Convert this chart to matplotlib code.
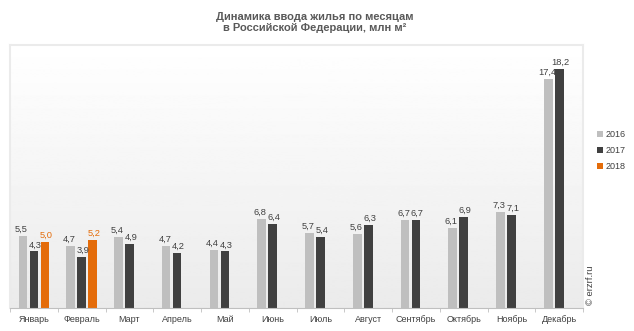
import numpy as np
import matplotlib.pyplot as plt

plt.rcParams['font.family'] = ['Liberation Sans', 'DejaVu Sans']

months = ['Январь', 'Февраль', 'Март', 'Апрель', 'Май', 'Июнь', 'Июль',
          'Август', 'Сентябрь', 'Октябрь', 'Ноябрь', 'Декабрь']
y2016 = [5.5, 4.7, 5.4, 4.7, 4.4, 6.8, 5.7, 5.6, 6.7, 6.1, 7.3, 17.4]
y2017 = [4.3, 3.9, 4.9, 4.2, 4.3, 6.4, 5.4, 6.3, 6.7, 6.9, 7.1, 18.2]
y2018 = [5.0, 5.2]

c16, c17, c18 = '#BFBFBF', '#404040', '#E46C0A'
lbl = '#404040'

fig = plt.figure(figsize=(6.34, 3.31), dpi=100)
ax = fig.add_axes([0.0158, 0.0695, 0.904, 0.7946])

# gradient background of the plot area
grad = np.linspace(1.0, 0.92, 256).reshape(-1, 1)
ax.imshow(grad, cmap='gray', vmin=0, vmax=1, aspect='auto',
          extent=[-0.5, 11.5, 0, 20], origin='upper', zorder=0)

x = np.arange(len(months))
w = 0.18
off = 0.23
b16 = ax.bar(x - off, y2016, w, color=c16, label='2016', zorder=2)
b17 = ax.bar(x, y2017, w, color=c17, label='2017', zorder=2)
b18 = ax.bar(x[:len(y2018)] + off, y2018, w, color=c18, label='2018', zorder=2)

def fmt(v):
    return f'{v:.1f}'.replace('.', ',')

for bars, vals, col, dx in [(b16, y2016, lbl, -1), (b17, y2017, lbl, 1), (b18, y2018, c18, 1)]:
    for b, v in zip(bars, vals):
        ax.annotate(fmt(v), (b.get_x() + b.get_width() / 2, v),
                    xytext=(dx, 1.5), textcoords='offset points',
                    ha='center', va='bottom', fontsize=6.7, color=col)

ax.set_xlim(-0.5, 11.5)
ax.set_ylim(0, 20)
ax.set_yticks([])
ax.set_xticks(x)
ax.set_xticklabels(months, fontsize=6.5, color='#404040')
ax.tick_params(axis='x', length=0, pad=5)
ax.set_xticks(np.arange(-0.5, 12, 1), minor=True)
ax.tick_params(axis='x', which='minor', length=3, color='#BFBFBF')
for s in ['top', 'left', 'right']:
    ax.spines[s].set_color('#EBEBEB')
    ax.spines[s].set_linewidth(1.5)
ax.spines['bottom'].set_color('#BFBFBF')
ax.spines['bottom'].set_linewidth(0.8)

fig.text(0.497, 0.965, 'Динамика ввода жилья по месяцам\nв Российской Федерации, млн м²',
         ha='center', va='top', fontsize=8, fontweight='bold', color='#595959',
         linespacing=1.15)

leg = fig.legend(handles=[b16, b17, b18], loc='center left',
                 bbox_to_anchor=(0.935, 0.545), frameon=False, fontsize=6.5,
                 handlelength=0.6, handleheight=0.6, handletextpad=0.3,
                 labelspacing=0.8, borderpad=0)
for t in leg.get_texts():
    t.set_color('#404040')

fig.text(0.932, 0.08, '© erzrf.ru', rotation=90, ha='center', va='bottom',
         fontsize=6.8, color='#404040')

fig.savefig('out.png', dpi=100)
